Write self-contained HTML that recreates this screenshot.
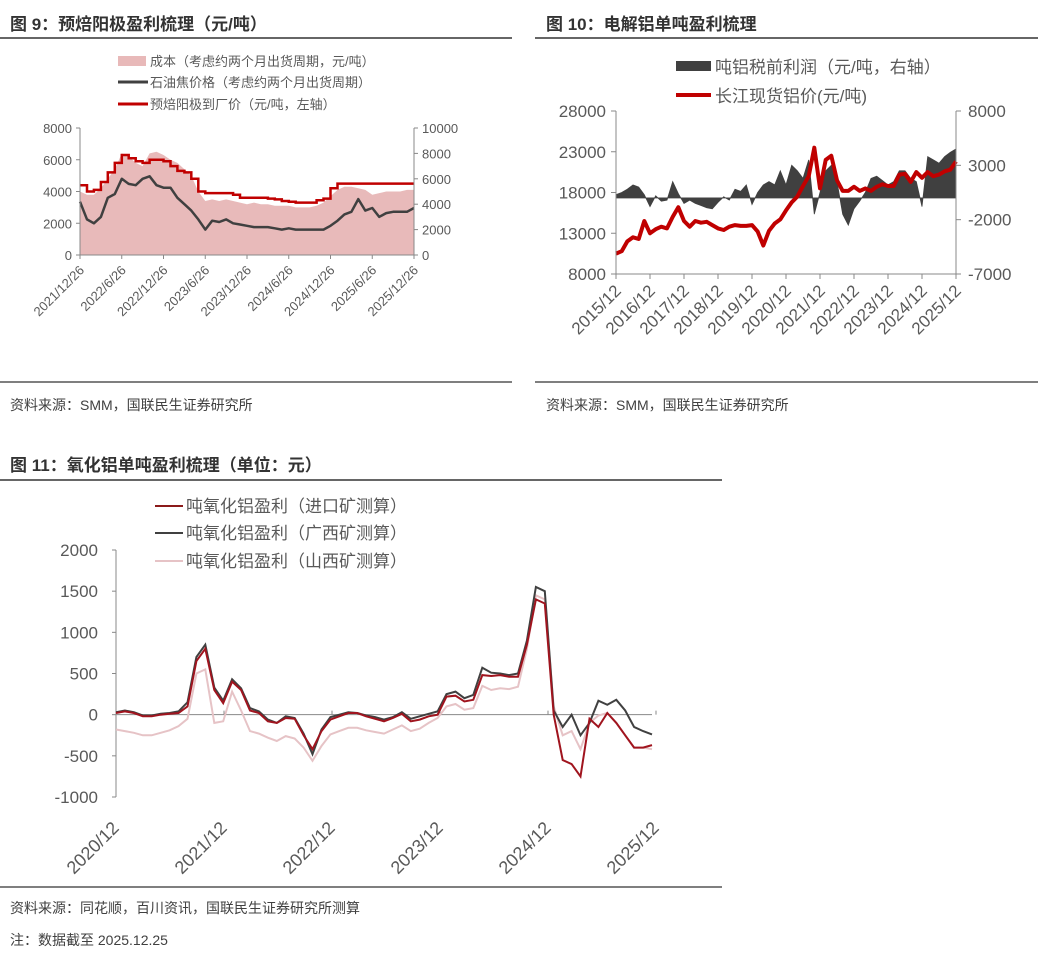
<!DOCTYPE html>
<html><head><meta charset="utf-8"><style>
html,body{margin:0;padding:0;background:#fff;}
svg{display:block;font-family:"Liberation Sans","Noto Sans CJK SC",sans-serif;font-size:13px;}
.t{font-weight:bold;fill:#333;}
.tk{fill:#595959;}
.lg{fill:#595959;}
.src{fill:#404040;}
</style></head><body>
<svg id="s" width="1054" height="958" viewBox="0 0 1054 958">
<text class="t" x="10" y="30" font-size="17">图 9：预焙阳极盈利梳理（元/吨）</text>
<line x1="0" y1="38" x2="512" y2="38" stroke="#333" stroke-width="1.5"/>
<text class="t" x="546" y="30" font-size="17">图 10：电解铝单吨盈利梳理</text>
<line x1="535" y1="38" x2="1038" y2="38" stroke="#333" stroke-width="1.5"/>
<line x1="0" y1="382" x2="512" y2="382" stroke="#555" stroke-width="1.5"/>
<line x1="535" y1="382" x2="1038" y2="382" stroke="#555" stroke-width="1.5"/>
<text class="src" x="10" y="410" font-size="14">资料来源：SMM，国联民生证券研究所</text>
<text class="src" x="546" y="410" font-size="14">资料来源：SMM，国联民生证券研究所</text>
<text class="t" x="10" y="471" font-size="17">图 11：氧化铝单吨盈利梳理（单位：元）</text>
<line x1="0" y1="480" x2="722" y2="480" stroke="#333" stroke-width="1.5"/>
<line x1="0" y1="887" x2="722" y2="887" stroke="#555" stroke-width="1.5"/>
<text class="src" x="10" y="913" font-size="14">资料来源：同花顺，百川资讯，国联民生证券研究所测算</text>
<text class="src" x="10" y="945" font-size="14">注：数据截至 2025.12.25</text>

<rect x="118" y="56" width="28" height="10" fill="#e8b9b9"/>
<text class="lg" x="150" y="66" font-size="13">成本（考虑约两个月出货周期，元/吨）</text>
<line x1="118" y1="82" x2="148" y2="82" stroke="#404040" stroke-width="3"/>
<text class="lg" x="150" y="87" font-size="13">石油焦价格（考虑约两个月出货周期）</text>
<line x1="118" y1="104" x2="148" y2="104" stroke="#c00000" stroke-width="3"/>
<text class="lg" x="150" y="109" font-size="13">预焙阳极到厂价（元/吨，左轴）</text>

<rect x="676" y="61" width="35" height="10" fill="#404040"/>
<text class="lg" x="715" y="73" font-size="17">吨铝税前利润（元/吨，右轴）</text>
<line x1="676" y1="95" x2="711" y2="95" stroke="#c00000" stroke-width="4"/>
<text class="lg" x="715" y="102" font-size="17">长江现货铝价(元/吨)</text>

<line x1="155" y1="506" x2="183" y2="506" stroke="#8b1a1a" stroke-width="2"/>
<text class="lg" x="186" y="512" font-size="17">吨氧化铝盈利（进口矿测算）</text>
<line x1="155" y1="533" x2="183" y2="533" stroke="#404040" stroke-width="2"/>
<text class="lg" x="186" y="539" font-size="17">吨氧化铝盈利（广西矿测算）</text>
<line x1="155" y1="561" x2="183" y2="561" stroke="#e6c3c6" stroke-width="2"/>
<text class="lg" x="186" y="567" font-size="17">吨氧化铝盈利（山西矿测算）</text>
<g id="c9"></g>
<g id="c10"></g>
<g id="c11"></g>
</svg>
<script>
// ---------- Chart 9 data (monthly, 2021/12 .. 2025/12) ----------
const c9Ticks = ["2021/12/26","2022/6/26","2022/12/26","2023/6/26","2023/12/26","2024/6/26","2024/12/26","2025/6/26","2025/12/26"];
const c9LeftTicks = [0,2000,4000,6000,8000];
const c9RightTicks = [0,2000,4000,6000,8000,10000];
const c9Anode = [4400,4000,4100,4600,5200,5800,6300,6100,5900,5800,6000,6000,5900,5600,5300,5200,4800,4000,3900,3900,3900,3900,3800,3600,3600,3600,3600,3550,3500,3400,3350,3300,3300,3300,3450,3550,4200,4500,4500,4500,4500,4500,4500,4500,4500,4500,4500,4500,4500];
const c9Coke = [4200,2800,2500,3000,4500,4800,6000,5600,5500,6000,6200,5500,5300,5300,4500,4000,3500,2800,2000,2700,2600,2800,2500,2400,2300,2200,2200,2200,2100,2000,2100,2000,2000,2000,2000,2000,2300,2700,3200,3400,4400,3500,3700,3000,3300,3400,3400,3400,3700];
const c9Cost = [4000,3800,3800,4200,4800,5400,6400,6200,5800,5600,6400,6500,6300,6000,5800,5400,5000,4000,3400,3500,3400,3500,3400,3300,3200,3300,3200,3200,3100,3100,3100,3000,3000,3000,3100,3300,3700,4100,4300,4300,4200,4100,3800,3900,4000,4000,4000,4100,4100];
// ---------- Chart 10 data (bimonthly, 2015/12 .. 2025/12) ----------
const c10Ticks = ["2015/12","2016/12","2017/12","2018/12","2019/12","2020/12","2021/12","2022/12","2023/12","2024/12","2025/12"];
const c10LeftTicks = [8000,13000,18000,23000,28000];
const c10RightTicks = [-7000,-2000,3000,8000];
const c10Price = [10500,10800,12000,12500,12300,14500,13000,13500,13800,13600,15000,16200,14500,13800,14500,14300,14400,14000,13600,13400,13800,14000,13900,13900,14000,13200,11500,13300,14200,14700,15800,16800,17500,18800,20000,23500,18500,22000,22500,19500,18200,18200,18700,18200,18500,18200,18700,19000,18800,18800,20200,20300,19300,20500,19800,20500,20000,20200,20600,20800,21800];
const c10Profit = [300,500,800,1200,1000,300,-800,200,-300,-200,1500,400,-500,-200,-500,-700,-900,-1000,-400,100,-200,800,600,1200,-600,500,1200,1500,1200,2500,1200,3000,2500,1800,3500,-1500,500,2500,3000,1500,-1500,-2500,-1000,-300,500,1800,2000,1600,1200,1500,2500,2500,1800,1500,-800,3800,3500,3200,3800,4200,4500];
// ---------- Chart 11 data (monthly, 2020/12 .. 2025/12) ----------
const c11Ticks = ["2020/12","2021/12","2022/12","2023/12","2024/12","2025/12"];
const c11YTicks = [-1000,-500,0,500,1000,1500,2000];
const c11Import = [20,40,20,-20,-20,0,10,20,100,650,800,300,140,400,300,50,20,-80,-100,-40,-50,-250,-420,-200,-60,-20,20,20,-20,-50,-80,-40,10,-80,-60,-20,0,220,230,160,180,480,470,480,460,460,850,1400,1350,0,-550,-600,-750,-50,-150,20,-100,-250,-400,-400,-370];
const c11Guangxi = [30,50,30,-10,-10,10,20,40,150,700,850,330,170,430,320,80,40,-60,-100,-20,-40,-230,-480,-180,-30,0,30,20,-10,-30,-60,-30,30,-50,-20,10,40,250,280,200,240,570,510,500,480,500,900,1550,1500,50,-150,0,-250,-100,170,120,180,50,-150,-200,-240];
const c11Shanxi = [-180,-200,-220,-250,-250,-220,-190,-140,-50,500,550,-100,-80,280,50,-200,-230,-280,-320,-260,-290,-400,-560,-380,-240,-200,-160,-160,-190,-210,-230,-180,-130,-200,-170,-100,-40,100,130,60,80,350,300,320,310,340,800,1450,1400,100,-250,-200,-420,-100,-10,20,-100,-250,-400,-400,-420];

const NS='http://www.w3.org/2000/svg';
function mk(parent, tag, attrs){const e=document.createElementNS(NS,tag);for(const k in attrs)e.setAttribute(k,attrs[k]);parent.appendChild(e);return e;}
function pathOf(arr,fx,fy){return arr.map((v,i)=>(i?'L':'M')+fx(i).toFixed(1)+' '+fy(v).toFixed(1)).join(' ');}

// ----- Chart 9 -----
(function(){
const g=document.getElementById('c9');
const x0=80,x1=414,yT=128,yB=255,n=c9Anode.length;
const fx=i=>x0+(x1-x0)*i/(n-1);
const fyL=v=>yB-(yB-yT)*v/8000;
const fyR=v=>yB-(yB-yT)*v/10000;
const area=mk(g,'path',{d:pathOf(c9Cost,fx,fyL)+` L${x1} ${yB} L${x0} ${yB} Z`,fill:'#e8baba'});


const coke=mk(g,'path',{d:pathOf(c9Coke,fx,fyR),fill:'none',stroke:'#404040','stroke-width':2.5,'stroke-linejoin':'round'});


const an=mk(g,'path',{d:c9Anode.map((v,i)=>(i?'H'+fx(i).toFixed(1)+' V':'M'+fx(i)+' ')+fyL(v).toFixed(1)).join(' '),fill:'none',stroke:'#c00000','stroke-width':2.5});


mk(g,'line',{x1:x0,y1:yT,x2:x0,y2:yB,stroke:'#888'});
mk(g,'line',{x1:x1,y1:yT,x2:x1,y2:yB,stroke:'#888'});
mk(g,'line',{x1:x0,y1:yB,x2:x1,y2:yB,stroke:'#888'});
c9LeftTicks.forEach(v=>{const y=fyL(v);mk(g,'line',{x1:x0-4,y1:y,x2:x0,y2:y,stroke:'#888'});
 const t=mk(g,'text',{x:x0-8,y:y+5,'text-anchor':'end',class:'tk','font-size':13});t.textContent=v;
 
 });
c9RightTicks.forEach(v=>{const y=fyR(v);mk(g,'line',{x1:x1,y1:y,x2:x1+4,y2:y,stroke:'#888'});
 const t=mk(g,'text',{x:x1+8,y:y+5,class:'tk','font-size':13});t.textContent=v;
 
 });
c9Ticks.forEach((s,i)=>{const x=x0+(x1-x0)*i/(c9Ticks.length-1);mk(g,'line',{x1:x,y1:yB,x2:x,y2:yB+4,stroke:'#888'});
 const t=mk(g,'text',{x:x+5,y:yB+16,'text-anchor':'end',class:'tk','font-size':13,transform:`rotate(-45 ${x+5} ${yB+16})`});t.textContent=s;
 
 });
})();

// ----- Chart 10 -----
(function(){
const g=document.getElementById('c10');
const x0=616,x1=956,yT=111,yB=274,n=c10Price.length;
const fx=i=>x0+(x1-x0)*i/(n-1);
const fyL=v=>yB-(yB-yT)*(v-8000)/20000;
const fyR=v=>yB-(yB-yT)*(v+7000)/15000;
const z=fyR(0);
let d=`M${x0} ${z}`;c10Profit.forEach((v,i)=>{d+=` L${fx(i).toFixed(1)} ${fyR(v).toFixed(1)}`;});d+=` L${x1} ${z} Z`;
const ar=mk(g,'path',{d:d,fill:'#404040',stroke:'#404040','stroke-width':0.8});


const pl=mk(g,'path',{d:pathOf(c10Price,fx,fyL),fill:'none',stroke:'#c00000','stroke-width':4,'stroke-linejoin':'round'});


mk(g,'line',{x1:x0,y1:yT,x2:x0,y2:yB,stroke:'#888'});
mk(g,'line',{x1:x1,y1:yT,x2:x1,y2:yB,stroke:'#888'});
mk(g,'line',{x1:x0,y1:yB,x2:x1,y2:yB,stroke:'#888'});
c10LeftTicks.forEach(v=>{const y=fyL(v);mk(g,'line',{x1:x0-5,y1:y,x2:x0,y2:y,stroke:'#888'});
 const t=mk(g,'text',{x:x0-10,y:y+6,'text-anchor':'end',class:'tk','font-size':17});t.textContent=v;
 
 });
c10RightTicks.forEach(v=>{const y=fyR(v);mk(g,'line',{x1:x1,y1:y,x2:x1+5,y2:y,stroke:'#888'});
 const t=mk(g,'text',{x:x1+12,y:y+6,class:'tk','font-size':17});t.textContent=v;
 
 });
c10Ticks.forEach((s,i)=>{const x=x0+(x1-x0)*i/(c10Ticks.length-1);mk(g,'line',{x1:x,y1:yB,x2:x,y2:yB+5,stroke:'#888'});
 const t=mk(g,'text',{x:x+6,y:yB+18,'text-anchor':'end',class:'tk','font-size':17,transform:`rotate(-45 ${x+6} ${yB+18})`});t.textContent=s;
 
 });
})();

// ----- Chart 11 -----
(function(){
const g=document.getElementById('c11');
const x0=116,xEnd=656,yT=550,yB=797;
const n=c11Import.length;
const fx=i=>x0+(xEnd-4-x0)*i/(n-1);
const fy=v=>yB-(yB-yT)*(v+1000)/3000;
mk(g,'line',{x1:x0,y1:yT,x2:x0,y2:yB,stroke:'#888'});
c11YTicks.forEach(v=>{const y=fy(v);mk(g,'line',{x1:x0-4,y1:y,x2:x0,y2:y,stroke:'#888'});
 const t=mk(g,'text',{x:x0-18,y:y+6,'text-anchor':'end',class:'tk','font-size':17});t.textContent=v;
 
 });
mk(g,'line',{x1:x0,y1:fy(0),x2:xEnd-4,y2:fy(0),stroke:'#888'});
c11Ticks.forEach((s,i)=>{const x=x0+(xEnd-x0)*i/(c11Ticks.length-1);
 mk(g,'line',{x1:x,y1:fy(0)-4,x2:x,y2:fy(0),stroke:'#888'});
 const t=mk(g,'text',{x:x+4,y:yB+32,'text-anchor':'end',class:'tk','font-size':18,transform:`rotate(-45 ${x+4} ${yB+32})`});t.textContent=s;
 
 });
const sh=mk(g,'path',{d:pathOf(c11Shanxi,fx,fy),fill:'none',stroke:'#e6c3c6','stroke-width':2});


const gx=mk(g,'path',{d:pathOf(c11Guangxi,fx,fy),fill:'none',stroke:'#404040','stroke-width':2});


const im=mk(g,'path',{d:pathOf(c11Import,fx,fy),fill:'none',stroke:'#a0141e','stroke-width':2});


})();
</script>
</body></html>
